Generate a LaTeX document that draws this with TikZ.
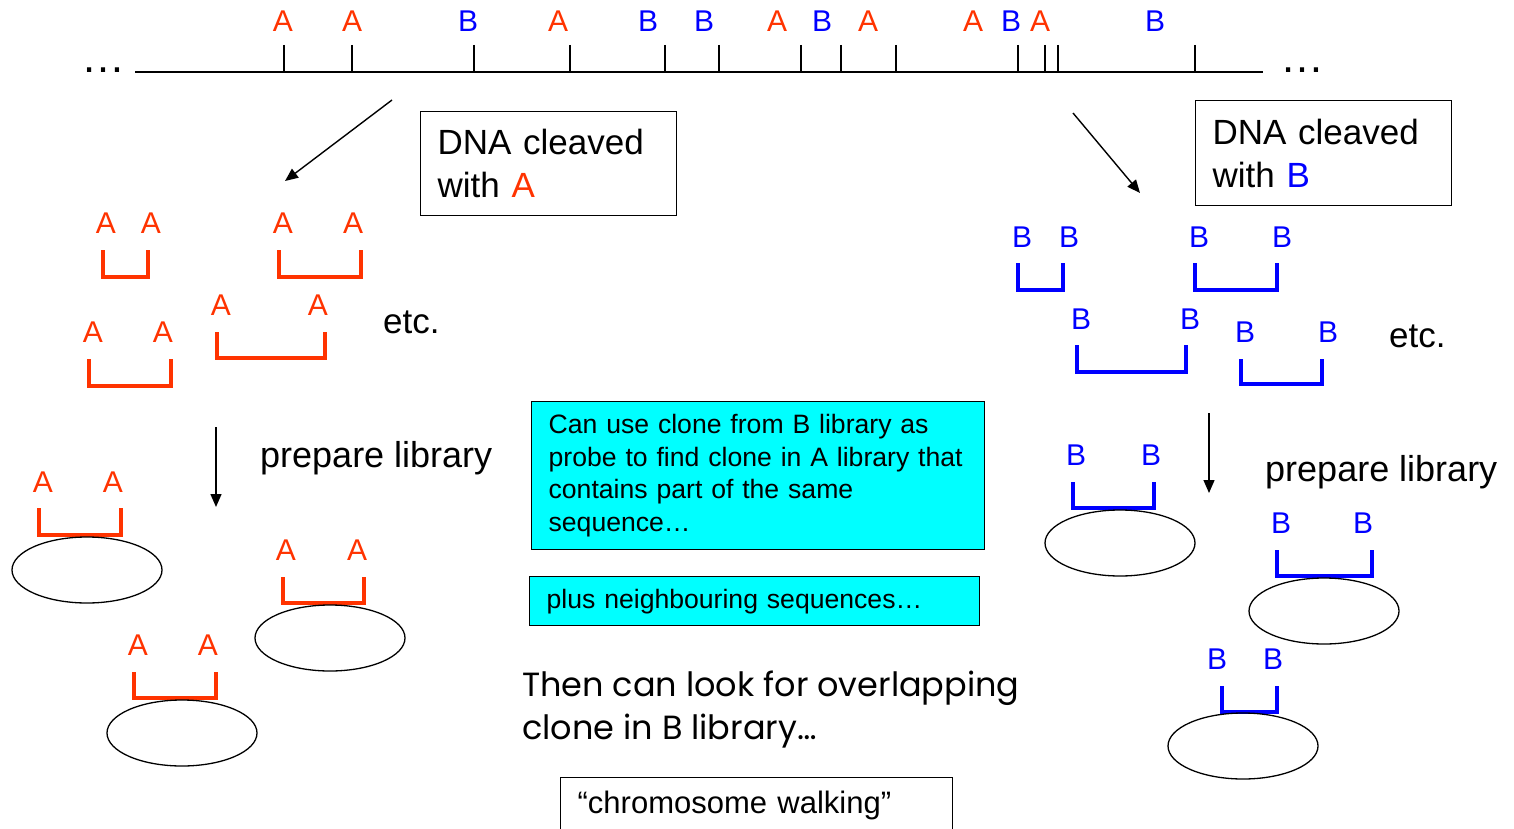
\documentclass[tikz,border=0pt]{standalone}
\usepackage{fontspec}
\setmainfont{Liberation Sans}
\newfontfamily\handfont{Poppins}
\usetikzlibrary{arrows.meta,shapes.geometric}
\definecolor{siteRed}{HTML}{FF3300}
\definecolor{siteBlue}{HTML}{0000FF}
\definecolor{noteCyan}{HTML}{00FFFF}

% one restriction fragment: #1 name, #2 enzyme (A/B), #3 #4 label x, #5 label y,
% #6 #7 bracket ends x, #8 bracket top y, #9 bracket bottom y
\newcommand\cutfrag[9]{%
  \node[site#2] (#1-l) at (#3,#5) {#2};
  \node[site#2] (#1-r) at (#4,#5) {#2};
  \draw[cut#2] (#6,#8) |- (#7,#9) -- (#7,#8);
}

\begin{document}
\begin{tikzpicture}[x=1pt,y=-1pt,
  siteA/.style={text=siteRed, inner sep=0pt, font=\fontsize{30}{36}\selectfont},
  siteB/.style={text=siteBlue, inner sep=0pt, font=\fontsize{30}{36}\selectfont},
  cutA/.style={draw=siteRed, line width=4pt, line join=miter},
  cutB/.style={draw=siteBlue, line width=4pt, line join=miter},
  dna/.style={line width=1.6pt},
  flow/.style={line width=1.4pt, -{Triangle[length=13pt,width=11pt]}},
  body/.style={inner sep=0pt, font=\fontsize{35}{43}\selectfont},
  step text/.style={inner sep=0pt, font=\fontsize{36}{43}\selectfont},
  labelbox/.style={draw, line width=1.3pt, align=left, inner xsep=17pt, inner ysep=0pt,
    font=\fontsize{35}{43}\selectfont},
  note/.style={draw, fill=noteCyan, line width=1.3pt, align=left, inner xsep=17pt,
    inner ysep=0pt, font=\fontsize{26.6}{32.7}\selectfont},
  clone/.style={ellipse, draw, line width=1.3pt, minimum width=150pt,
    minimum height=66pt, inner sep=0pt},
  dots/.style={inner sep=0pt, anchor=base, font=\fontsize{44}{50}\selectfont}]
\useasboundingbox (0,0) rectangle (1514,829);

% ---- the DNA with its restriction sites ----
\node[dots] (dotsL) at (103,73) {…};
\node[dots] (dotsR) at (1302,73) {…};
\coordinate (dnaL) at (135,72);
\coordinate (dnaR) at (1263,72);
\draw[dna] (dnaL) -- (dnaR);
\foreach \tx/\lx/\e [count=\i] in {284/283/A, 352/352/A, 474/468/B, 570/558/A,
    665/648/B, 719/704/B, 801/777/A, 841/822/B, 896/868/A, 1018/973/A,
    1045/1011/B, 1058/1040/A, 1195/1155/B}{
  \node[site\e] (s\i) at (\lx,21) {\e};
  \draw[dna] (\tx,45) -- (\tx,72);
}

% ---- cleavage with A ----
\coordinate (cleaveA0) at (392,100);
\coordinate (cleaveA1) at (285,181);
\draw[flow] (cleaveA0) -- (cleaveA1);
\node[labelbox, anchor=north west, text width=222pt, minimum height=104pt]
  (boxA) at (420,111) {DNA cleaved\\with \textcolor{siteRed}{A}};

\cutfrag{fa1}{A}{106}{151}{223}{103}{148}{250}{277}
\cutfrag{fa2}{A}{283}{353}{223}{279}{361}{250}{277}
\cutfrag{fa3}{A}{221}{318}{305}{217}{325}{332}{358}
\cutfrag{fa4}{A}{93}{163}{332}{89}{171}{359}{386}
\node[body, anchor=west] (etcA) at (383,322) {etc.};

\coordinate (libA0) at (216,427);
\coordinate (libA1) at (216,507);
\draw[flow] (libA0) -- (libA1);
\node[step text, anchor=west] (prepA) at (260,458) {prepare library};

\cutfrag{ca1}{A}{43}{113}{482}{39}{121}{508}{535}
\node[clone] (cloneA1) at (87,570) {};
\cutfrag{ca2}{A}{286}{357}{550}{283}{364}{577}{603}
\node[clone] (cloneA2) at (330,638) {};
\cutfrag{ca3}{A}{138}{208}{645}{134}{216}{672}{698}
\node[clone] (cloneA3) at (182,733) {};

% ---- cleavage with B ----
\coordinate (cleaveB0) at (1073,113);
\coordinate (cleaveB1) at (1140,193);
\draw[flow] (cleaveB0) -- (cleaveB1);
\node[labelbox, anchor=north west, text width=222pt, minimum height=105pt]
  (boxB) at (1195,100) {DNA cleaved\\with \textcolor{siteBlue}{B}};

\cutfrag{fb1}{B}{1022}{1069}{237}{1018}{1063}{263}{290}
\cutfrag{fb2}{B}{1199}{1282}{237}{1195}{1277}{263}{290}
\cutfrag{fb3}{B}{1081}{1190}{319}{1077}{1186}{345}{372}
\cutfrag{fb4}{B}{1245}{1328}{332}{1241}{1322}{359}{384}
\node[body, anchor=west] (etcB) at (1389,336) {etc.};

\coordinate (libB0) at (1209,413);
\coordinate (libB1) at (1209,493);
\draw[flow] (libB0) -- (libB1);
\node[step text, anchor=west] (prepB) at (1265,472) {prepare library};

\cutfrag{cb1}{B}{1076}{1151}{455}{1073}{1154}{482}{508}
\node[clone] (cloneB1) at (1120,543) {};
\cutfrag{cb2}{B}{1281}{1363}{523}{1277}{1372}{550}{576}
\node[clone] (cloneB2) at (1324,611) {};
\cutfrag{cb3}{B}{1217}{1273}{659}{1222}{1277}{686}{712}
\node[clone] (cloneB3) at (1243,746) {};

% ---- notes in the middle ----
\node[note, anchor=north west, text width=419pt, minimum height=148pt] (probe)
  at (531,401) {\mbox{Can use clone from B library as}\\
    \mbox{probe to find clone in A library that}\\
    \mbox{contains part of the same}\\
    \mbox{sequence…}};
\node[note, anchor=north west, text width=416pt, minimum height=49pt] (neigh)
  at (529,576) {plus neighbouring sequences…};
\node[inner sep=0pt, anchor=west, align=left, font=\handfont\fontsize{33.5}{43}\selectfont]
  (overlap) at (522,710) {Then can look for overlapping\\clone in B library…};
\node[labelbox, anchor=north west, text width=358pt, minimum height=56pt,
  font=\fontsize{31}{36}\selectfont] (walk) at (560,777) {“chromosome walking”};
\end{tikzpicture}
\end{document}
